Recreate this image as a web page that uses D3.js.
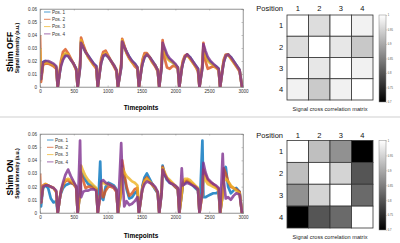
<!DOCTYPE html>
<html lang="en">
<head>
<meta charset="UTF-8">
<title>Shim OFF / ON signal</title>
<script src="https://cdn.jsdelivr.net/npm/d3@7"></script>
<style>
    body{ margin:0; background:#fff; }
    svg{ display:block; font-family:"Liberation Sans", Arial, sans-serif; }
</style>
</head>
<body>
<script>

    // timepoints (shared by both panels), 9 samples per acquisition block
    const timepoints = [
        0, 15, 45, 80, 120, 160, 200, 240, 262,
        295, 310, 340, 375, 415, 455, 495, 535, 557,
        592, 607, 637, 672, 712, 752, 792, 832, 854,
        890, 905, 935, 970, 1010, 1050, 1090, 1130, 1152,
        1200, 1215, 1245, 1280, 1320, 1360, 1400, 1440, 1462,
        1500, 1515, 1545, 1580, 1620, 1660, 1700, 1740, 1762,
        1797, 1812, 1842, 1877, 1917, 1957, 1997, 2037, 2059,
        2095, 2110, 2140, 2175, 2215, 2255, 2295, 2335, 2357,
        2400, 2415, 2445, 2480, 2520, 2560, 2600, 2640, 2662,
        2700, 2715, 2745, 2780, 2820, 2860, 2900, 2950, 2985
    ]

    // shim OFF
    const offPos1 = [
        .012,.006,.019,.020,.019,.018,.017,.015,0,
        .012,.017,.022,.025,.024,.021,.018,.014,0,
        .015,.035,.031,.027,.024,.021,.018,.016,0,
        .014,.019,.024,.025,.023,.020,.017,.013,0,
        .015,.035,.031,.027,.023,.020,.018,.015,0,
        .014,.018,.023,.025,.023,.020,.017,.013,0,
        .015,.032,.028,.023,.021,.019,.017,.015,0,
        .014,.018,.023,.025,.023,.020,.017,.014,0,
        .015,.031,.025,.021,.019,.017,.016,.014,0,
        .014,.019,.024,.025,.023,.020,.017,.013,0]
    const offPos2 = [
        .040,.004,.017,.018,.018,.017,.016,.014,0,
        .014,.020,.027,.029,.026,.022,.018,.013,0,
        .018,.038,.033,.028,.023,.020,.017,.014,0,
        .015,.022,.027,.028,.024,.020,.016,.012,0,
        .018,.037,.032,.026,.022,.019,.016,.014,0,
        .015,.021,.026,.026,.023,.019,.016,.012,0,
        .018,.036,.022,.015,.014,.016,.016,.014,0,
        .015,.020,.024,.025,.022,.019,.016,.012,0,
        .018,.034,.020,.014,.015,.016,.015,.013,0,
        .015,.021,.025,.025,.022,.019,.016,.012,0]
    const offPos3 = [
        .030,.006,.018,.019,.019,.018,.017,.015,0,
        .013,.018,.024,.026,.025,.021,.018,.013,0,
        .016,.036,.032,.027,.023,.020,.017,.015,0,
        .015,.020,.025,.026,.023,.020,.017,.013,0,
        .016,.036,.031,.026,.022,.019,.017,.015,0,
        .015,.020,.024,.025,.023,.019,.017,.013,0,
        .016,.033,.027,.022,.020,.019,.017,.015,0,
        .015,.019,.023,.024,.022,.019,.016,.013,0,
        .016,.030,.024,.020,.018,.017,.015,.013,0,
        .015,.020,.024,.025,.022,.019,.016,.013,0]
    const offPos4 = [
        .010,.006,.019,.020,.020,.019,.018,.016,0,
        .012,.016,.021,.024,.024,.021,.018,.014,0,
        .015,.034,.031,.027,.024,.021,.018,.016,0,
        .014,.019,.024,.025,.023,.020,.017,.013,0,
        .015,.035,.031,.027,.023,.020,.018,.015,0,
        .014,.018,.023,.025,.023,.020,.017,.013,0,
        .015,.034,.030,.025,.022,.020,.018,.015,0,
        .014,.018,.023,.025,.023,.020,.017,.014,0,
        .015,.033,.028,.023,.020,.018,.016,.014,0,
        .014,.019,.024,.025,.023,.020,.017,.013,0]

    // shim ON
    const onPos1 = [
        .006,.005,.019,.021,.019,.011,.008,.009,0,
        .012,.015,.019,.021,.022,.023,.022,.020,0,
        .015,.031,.028,.025,.022,.021,.020,.018,0,
        .039,.012,.010,.020,.023,.022,.021,.018,0,
        .016,.036,.028,.018,.011,.012,.015,.017,0,
        .014,.021,.027,.030,.026,.022,.018,.015,0,
        .015,.036,.029,.025,.023,.022,.020,.018,0,
        .014,.021,.023,.024,.023,.021,.019,.017,0,
        .055,.012,.012,.013,.014,.015,.015,.016,0,
        .014,.030,.035,.020,.015,.017,.019,.016,0]
    const onPos2 = [
        .030,.008,.021,.022,.021,.020,.019,.016,0,
        .012,.016,.021,.024,.025,.023,.022,.019,0,
        .015,.030,.025,.019,.020,.020,.019,.018,0,
        .014,.020,.012,.017,.020,.020,.019,.016,0,
        .018,.040,.030,.020,.013,.015,.018,.019,0,
        .014,.020,.025,.027,.024,.021,.019,.015,0,
        .016,.035,.030,.026,.024,.022,.020,.018,0,
        .015,.022,.024,.025,.023,.022,.020,.018,0,
        .016,.033,.029,.025,.023,.022,.020,.018,0,
        .015,.034,.030,.024,.020,.019,.018,.016,0]
    const onPos3 = [
        .010,.008,.020,.022,.021,.020,.019,.016,0,
        .012,.017,.022,.025,.026,.025,.023,.020,0,
        .016,.036,.032,.028,.025,.023,.021,.019,0,
        .014,.022,.023,.022,.022,.021,.020,.017,0,
        .016,.034,.031,.028,.026,.024,.023,.021,0,
        .014,.019,.024,.026,.024,.022,.019,.016,0,
        .016,.034,.031,.027,.025,.023,.021,.019,0,
        .015,.023,.026,.026,.025,.023,.021,.019,0,
        .015,.028,.025,.022,.021,.020,.019,.017,0,
        .014,.024,.026,.024,.021,.019,.017,.015,0]
    const onPos4 = [
        .012,.008,.020,.021,.021,.020,.019,.017,0,
        .012,.017,.023,.029,.033,.028,.024,.020,0,
        .055,.012,.016,.017,.017,.018,.018,.017,0,
        .014,.024,.025,.023,.022,.021,.020,.017,0,
        .053,.030,.005,.009,.006,.007,.009,.012,0,
        .014,.018,.022,.024,.023,.022,.020,.016,0,
        .015,.033,.029,.026,.023,.022,.021,.019,0,
        .034,.021,.022,.023,.022,.021,.020,.018,0,
        .016,.038,.031,.026,.024,.022,.021,.019,0,
        .045,.025,.011,.012,.010,.013,.015,.014,0]

    const seriesNames = ["Pos. 1", "Pos. 2", "Pos. 3", "Pos. 4"]
    const seriesColors = ["#0072BD", "#D95319", "#EDB120", "#7E2F8E"]
    const xTicks = [0, 500, 1000, 1500, 2000, 2500, 3000]
    const yTicks = [0, 0.01, 0.02, 0.03, 0.04, 0.05, 0.06]

    // correlation matrices (rows / cols = position 1..4)
    const positions = ["1", "2", "3", "4"]
    const corrOff = [
        [1.000, 0.960, 1.000, 0.985],
        [0.960, 1.000, 0.972, 0.935],
        [1.000, 0.972, 1.000, 0.983],
        [0.985, 0.938, 0.983, 1.000]]
    const corrOn = [
        [1.000, 0.925, 0.870, 0.700],
        [0.925, 1.000, 0.950, 0.800],
        [0.870, 0.950, 1.000, 0.825],
        [0.700, 0.800, 0.825, 1.000]]
    const cbarTicks = [0.7, 0.75, 0.8, 0.85, 0.9, 0.95, 1]

    const W = 400, H = 243
    const svg = d3.select("body").append("svg")
        .attr("width", W).attr("height", H)
        .attr("viewBox", [0, 0, W, H])
    svg.append("rect").attr("width", W).attr("height", H).attr("fill", "#fff")

    const panels = [
        {label: "Shim OFF", series: [offPos1, offPos2, offPos3, offPos4], corr: corrOff,
         top: 9, bottom: 87, legX: 44, legY: 12, mapTop: 15, mapBottom: 100, headY: 10.5,
         xlabY: 110, mapCapY: 110.5},
        {label: "Shim ON", series: [onPos1, onPos2, onPos3, onPos4], corr: corrOn,
         top: 134, bottom: 213, legX: 47, legY: 140, mapTop: 140.5, mapBottom: 228, headY: 138,
         xlabY: 238, mapCapY: 239}
    ]

    const plotL = 40, plotR = 243
    const mapL = 287, mapR = 373
    const cbL = 379, cbW = 7

    const grey = d3.scaleLinear().domain([0.7, 1]).range(["#000", "#fff"]).clamp(true)

    // gradient for the colour bar
    const grad = svg.append("defs").append("linearGradient")
        .attr("id", "cbar").attr("x1", 0).attr("y1", 1).attr("x2", 0).attr("y2", 0)
    grad.append("stop").attr("offset", 0).attr("stop-color", grey(0.7))
    grad.append("stop").attr("offset", 1).attr("stop-color", grey(1))

    panels.forEach(p => {
        const g = svg.append("g")
        const x = d3.scaleLinear().domain([0, 3000]).range([plotL, plotR])
        const y = d3.scaleLinear().domain([0, 0.06]).range([p.bottom, p.top])

        // box
        g.append("rect")
            .attr("x", plotL).attr("y", p.top)
            .attr("width", plotR - plotL).attr("height", p.bottom - p.top)
            .attr("fill", "#fff").attr("stroke", "#a0a0a0").attr("stroke-width", 0.6)

        // lines
        const line = d3.line().x((d, i) => x(timepoints[i])).y(d => y(d))
        const clipId = "clip" + p.top
        svg.append("clipPath").attr("id", clipId).append("rect")
            .attr("x", plotL).attr("y", p.top).attr("width", plotR - plotL).attr("height", p.bottom - p.top)
        const lg = g.append("g").attr("clip-path", `url(#${clipId})`)
        p.series.forEach((s, k) => {
            lg.append("path")
                .attr("d", line(s))
                .attr("fill", "none")
                .attr("stroke", seriesColors[k])
                .attr("stroke-width", 2.7)
                .attr("stroke-opacity", 0.8)
                .attr("stroke-linejoin", "round")
        })

        // axes (ticks pointing inside, MATLAB style)
        g.append("g").attr("transform", `translate(0,${p.bottom})`)
            .call(d3.axisBottom(x).tickValues(xTicks).tickSize(-1.5).tickPadding(3).tickFormat(d3.format("d")))
        g.append("g").attr("transform", `translate(${plotL},0)`)
            .call(d3.axisLeft(y).tickValues(yTicks).tickSize(-1.5).tickPadding(3)
                .tickFormat(d => d === 0 ? "0" : d3.format(".2f")(d)))
        g.append("g").attr("transform", `translate(${plotR},0)`)
            .call(d3.axisRight(y).tickValues(yTicks).tickSize(-1.5).tickFormat(""))
        g.append("g").attr("transform", `translate(0,${p.top})`)
            .call(d3.axisTop(x).tickValues(xTicks).tickSize(-1.5).tickFormat(""))
        g.selectAll(".domain").attr("stroke", "#8a8a8a").attr("stroke-width", 0.6)
        g.selectAll(".tick line").attr("stroke", "#8a8a8a").attr("stroke-width", 0.5)
        g.selectAll(".tick text").attr("font-size", 4.6).attr("fill", "#333")
            .attr("font-family", "Liberation Sans, Arial, sans-serif")

        // legend
        seriesNames.forEach((n, k) => {
            const ly = p.legY + k * 7.3
            g.append("line").attr("x1", p.legX).attr("x2", p.legX + 6.5)
                .attr("y1", ly).attr("y2", ly)
                .attr("stroke", seriesColors[k]).attr("stroke-width", 1).attr("stroke-opacity", 0.7)
            g.append("text").attr("x", p.legX + 8).attr("y", ly + 1.6)
                .attr("font-size", 4.6).attr("fill", "#333").text(n)
        })

        // labels
        g.append("text")
            .attr("transform", `translate(18.5,${(p.top + p.bottom) / 2}) rotate(-90)`)
            .attr("text-anchor", "middle").attr("font-size", 5).attr("font-weight", "bold")
            .text("Signal intensity (a.u.)")
        g.append("text")
            .attr("transform", `translate(12.5,${(p.top + p.bottom) / 2 + 4}) rotate(-90)`)
            .attr("text-anchor", "middle").attr("font-size", 8.5).attr("font-weight", "bold")
            .text(p.label)
        g.append("text")
            .attr("x", 141).attr("y", p.xlabY)
            .attr("text-anchor", "middle").attr("font-size", 6.5).attr("font-weight", "bold")
            .text("Timepoints")

        // correlation matrix
        const bx = d3.scaleBand().domain(positions).range([mapL, mapR])
        const by = d3.scaleBand().domain(positions).range([p.mapTop, p.mapBottom])
        const m = svg.append("g")
        p.corr.forEach((row, r) => row.forEach((v, c) => {
            m.append("rect")
                .attr("x", bx(positions[c])).attr("y", by(positions[r]))
                .attr("width", bx.bandwidth()).attr("height", by.bandwidth())
                .attr("fill", grey(v)).attr("stroke", "#333").attr("stroke-width", 0.8)
        }))
        m.append("text").attr("x", 283).attr("y", p.headY)
            .attr("text-anchor", "end").attr("font-size", 7.5).attr("fill", "#111").text("Position")
        positions.forEach(d => {
            m.append("text").attr("x", bx(d) + bx.bandwidth() / 2).attr("y", p.headY)
                .attr("text-anchor", "middle").attr("font-size", 7.5).attr("fill", "#111").text(d)
            m.append("text").attr("x", 281).attr("y", by(d) + by.bandwidth() / 2 + 2.7)
                .attr("text-anchor", "middle").attr("font-size", 7.5).attr("fill", "#111").text(d)
        })
        m.append("text").attr("x", 330).attr("y", p.mapCapY)
            .attr("text-anchor", "middle").attr("font-size", 5.6).attr("fill", "#222")
            .text("Signal cross correlation matrix")

        // colour bar
        const cy = d3.scaleLinear().domain([0.7, 1]).range([p.mapBottom + 2, p.mapTop])
        m.append("rect").attr("x", cbL).attr("y", p.mapTop)
            .attr("width", cbW).attr("height", p.mapBottom + 2 - p.mapTop)
            .attr("fill", "url(#cbar)").attr("stroke", "#888").attr("stroke-width", 0.5)
        const cax = m.append("g").attr("transform", `translate(${cbL + cbW},0)`)
            .call(d3.axisRight(cy).tickValues(cbarTicks).tickSize(0.8).tickPadding(1)
                .tickFormat(d => d3.format("")(+d.toFixed(2))))
        cax.select(".domain").remove()
        cax.selectAll(".tick line").attr("stroke", "#888").attr("stroke-width", 0.4)
        cax.selectAll(".tick text").attr("font-size", 2.6).attr("fill", "#444")
    })

    // divider between the two rows
    svg.append("line").attr("x1", 0).attr("x2", W).attr("y1", 117).attr("y2", 117)
        .attr("stroke", "#cfcfcf").attr("stroke-width", 1.2)

</script>
</body>
</html>
